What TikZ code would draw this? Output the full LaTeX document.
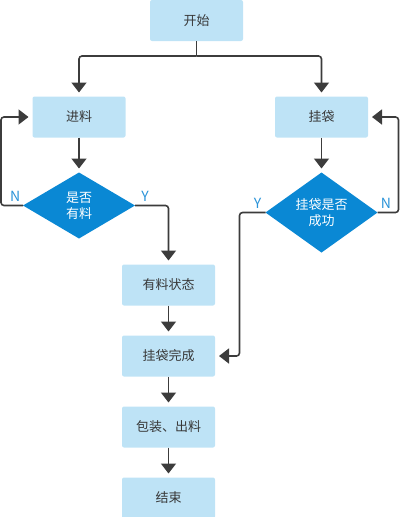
\documentclass[tikz,border=0pt]{standalone}
\usepackage{fontspec}
\usepackage{tikz}
\usetikzlibrary{positioning,arrows.meta,shapes.geometric,calc}
\newfontfamily\cjk{Noto Sans CJK SC}
\definecolor{boxfill}{HTML}{BEE3F6}
\definecolor{choice}{HTML}{0A88D4}
\definecolor{wire}{HTML}{3C3C3C}
\definecolor{ink}{HTML}{383838}
\definecolor{tag}{HTML}{2A93D8}

\begin{document}
\begin{tikzpicture}[
  x=1pt, y=1pt,
  every node/.style={font=\cjk\fontsize{13}{16}\selectfont, outer sep=0pt},
  process/.style={
    fill=boxfill, rounded corners=2pt, text=ink,
    minimum width=93pt, minimum height=41pt, align=center,
  },
  decision/.style={
    diamond, fill=choice, text=white, inner sep=0pt,
    minimum width=112pt, minimum height=66pt, align=center,
  },
  arrow/.style={-{Triangle[width=15pt,length=10pt]}, line width=1.6pt, wire,
    rounded corners=3pt, shorten >=4pt},
  yn/.style={text=tag, font=\cjk\fontsize{14}{16}\selectfont, inner sep=4pt},
]
  \useasboundingbox (0,0) rectangle (400,-517);

  % start and the two branches
  \node[process] (start) at (196.5,-20.5) {开始};
  \node[process] (feed) at (79,-117) {进料};
  \node[process] (hang) at (321.5,-117) {挂袋};

  % decisions
  \node[decision, below=35pt of feed] (hasmat) {是否\\有料};
  \node[decision, below=35pt of hang] (hangok) {挂袋是否\\成功};

  % main column
  \node[process] (matstate) at (168.5,-285) {有料状态};
  \node[process, below=30pt of matstate] (hangdone) {挂袋完成};
  \node[process, below=30pt of hangdone] (pack) {包装、出料};
  \node[process, below=30pt of pack] (finish) {结束};

  % start splits to both sides
  \coordinate (split) at ($(start.south)+(0,-15)$);
  \draw[line width=1.6pt, wire] (start.south) -- (split);
  \draw[arrow] (split) -| (feed.north);
  \draw[arrow] (split) -| (hang.north);

  % left loop
  \draw[arrow] (feed) -- (hasmat);
  \draw[arrow] (hasmat.west) -- node[yn, above, pos=0.35] {N} ++(-22,0) |- (feed.west);
  \draw[arrow] (hasmat.east) -- node[yn, above, pos=0.3] {Y} ++(33.5,0) -- (matstate.north);

  % right loop
  \draw[arrow] (hang) -- (hangok);
  \draw[arrow] (hangok.east) -- node[yn, above, pos=0.4] {N} ++(21,0) |- (hang.east);
  \draw[arrow] (hangok.west) -- node[yn, above, pos=0.3] {Y} ++(-26,0) |- (hangdone.east);

  % finishing steps
  \draw[arrow] (matstate) -- (hangdone);
  \draw[arrow] (hangdone) -- (pack);
  \draw[arrow] (pack) -- (finish);
\end{tikzpicture}
\end{document}
